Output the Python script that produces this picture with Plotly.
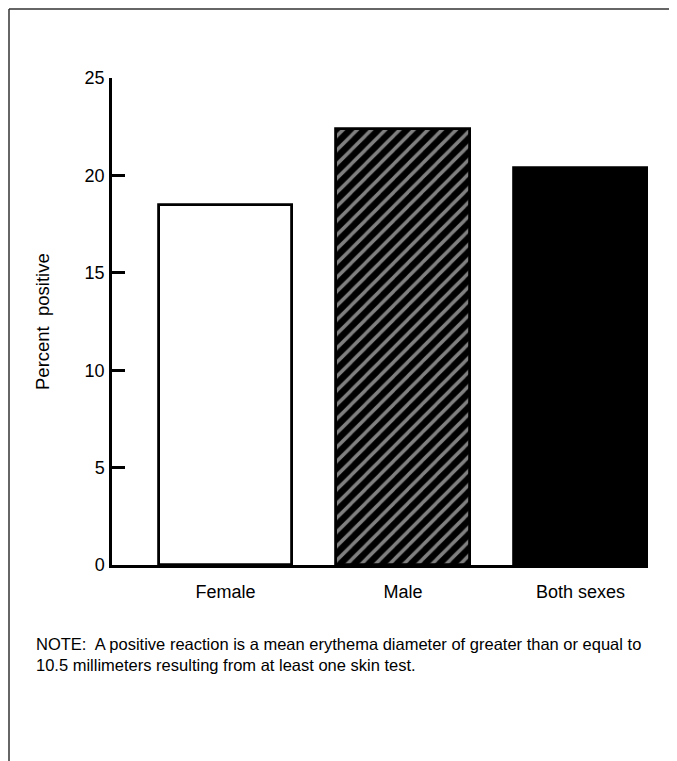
import plotly.graph_objects as go

categories = ["Female", "Male", "Both sexes"]
values = [18.5, 22.4, 20.4]
y_ticks = [0, 5, 10, 15, 20, 25]
note_text = ("NOTE:  A positive reaction is a mean erythema diameter of greater than or equal to<br>"
             "10.5 millimeters resulting from at least one skin test.")

OFF = 8  # page body margin
W, H = 677 - OFF, 761 - OFF
# plot area in page pixels
PL, PR, PT, PB = 112, 648, 78, 565
L, T = PL - OFF, PT - OFF
R, B = W - (PR - OFF), H - (PB - OFF)
pw, ph = PR - PL, PB - PT

def px_x(x):
    return (x - PL) / pw

def px_y(y):
    return 1 - (y - PT) / ph

FONT = "Liberation Sans, Arial, Helvetica, sans-serif"

fills = ["white", "black", "black"]
patterns = [dict(shape=""),
            dict(shape="/", fgcolor="white", bgcolor="black", size=10, solidity=0.35),
            dict(shape="")]

fig = go.Figure()
for i, (c, v) in enumerate(zip(categories, values)):
    fig.add_trace(go.Bar(
        x=[i], y=[v], width=0.75,
        marker=dict(color=fills[i], line=dict(color="black", width=2.8), pattern=patterns[i]),
        showlegend=False, hoverinfo="skip",
    ))

spacing = 177.5
c0 = 225.5
fig.update_layout(
    width=W, height=H,
    margin=dict(l=L, r=R, t=T, b=B),
    paper_bgcolor="white", plot_bgcolor="white",
    font=dict(family=FONT, size=18, color="black"),
    bargap=0,
    xaxis=dict(
        range=[(PL - c0) / spacing, (PR - c0) / spacing],
        tickvals=[0, 1, 2], ticktext=categories, ticks="",
        showline=True, linecolor="black", linewidth=2.5,
        showgrid=False, zeroline=False, ticklabelstandoff=9,
        tickfont=dict(size=18),
    ),
    yaxis=dict(
        range=[0, 25], tickvals=y_ticks, ticks="inside", ticklen=13, tickwidth=2.5,
        tickcolor="black", showline=True, linecolor="black", linewidth=2.5,
        showgrid=False, zeroline=False, ticklabelstandoff=1,
        tickfont=dict(size=18),
    ),
)

fig.add_annotation(
    text="Percent&nbsp;&nbsp;positive", textangle=-90,
    xref="paper", yref="paper", x=px_x(42), y=px_y(322),
    xanchor="center", yanchor="middle", showarrow=False,
    font=dict(size=18.5, family=FONT, color="black"),
)
fig.add_annotation(
    text=note_text, align="left",
    xref="paper", yref="paper", x=px_x(34), y=px_y(633),
    xanchor="left", yanchor="top", showarrow=False,
    font=dict(size=16.5, family=FONT, color="black"),
)

# frame lines (left and top edges of the page frame)
fig.add_shape(type="line", xref="paper", yref="paper",
              x0=px_x(9), x1=px_x(9), y0=px_y(9), y1=px_y(761),
              line=dict(color="#333333", width=1.5))
fig.add_shape(type="line", xref="paper", yref="paper",
              x0=px_x(9), x1=px_x(677), y0=px_y(9), y1=px_y(9),
              line=dict(color="#333333", width=1.5))

fig.write_html("out.html")
